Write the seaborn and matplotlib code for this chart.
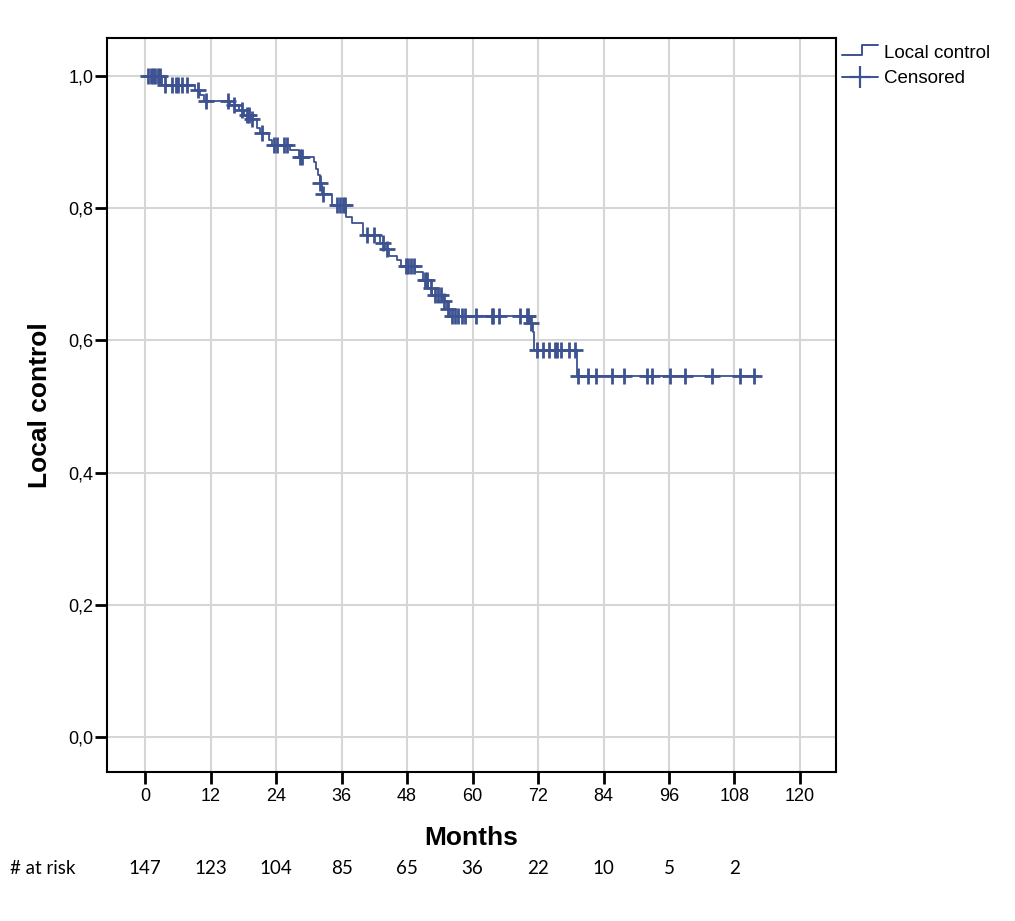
import numpy as np
import matplotlib
matplotlib.use("Agg")
import matplotlib.pyplot as plt
import matplotlib.transforms as mtransforms
from matplotlib.lines import Line2D
from matplotlib.legend_handler import HandlerBase
import seaborn as sns

# Kaplan-Meier step curve (time in months, survival after each step)
step_t = [0, 3.0, 9.2, 10.1, 10.7, 15.6, 17.2, 18.1, 19.3, 20.5, 21.0, 22.7, 23.2,
          26.5, 28.2, 30.9, 31.3, 31.7, 32.0, 32.4, 34.2, 36.8, 37.9, 40.0, 43.1,
          44.0, 44.7, 46.1, 46.8, 49.5, 51.0, 51.8, 52.5, 54.5, 55.3, 55.8, 70.5,
          71.0, 71.3, 79.1, 112.4]
step_s = [1.0, 0.987, 0.979, 0.971, 0.962, 0.956, 0.948, 0.941, 0.935, 0.921, 0.914,
          0.903, 0.896, 0.888, 0.878, 0.870, 0.860, 0.850, 0.838, 0.822, 0.805, 0.787,
          0.777, 0.759, 0.747, 0.739, 0.728, 0.722, 0.713, 0.704, 0.691, 0.680, 0.669,
          0.659, 0.648, 0.637, 0.626, 0.613, 0.586, 0.546, 0.546]

censor_t = [0.5, 1.0, 1.4, 1.8, 2.3, 2.7,
            3.7, 4.9, 5.7, 6.1, 6.7, 7.7, 9.6, 11.2, 15.2, 16.2, 17.8,
            18.6, 19.0, 19.5, 21.5, 23.6, 24.2, 25.4, 26.0, 28.4, 28.7,
            32.1, 32.6, 35.1, 35.7, 36.2, 36.6, 40.6, 42.0, 43.5, 44.3,
            47.8, 48.2, 48.8, 49.3, 51.3, 51.6, 52.3, 53.1, 53.6, 54.3, 54.7, 55.5,
            56.2, 56.7, 57.4, 58.0, 58.6, 60.6, 63.5, 63.8, 64.9, 68.7, 69.9, 70.2,
            70.8, 71.8, 72.9, 74.1, 75.1, 75.5, 76.2, 77.6, 78.8,
            79.4, 81.2, 82.6, 85.5, 87.8, 91.9, 92.9, 96.2, 99.0, 103.8, 109.0, 111.6]

x_ticks = [0, 12, 24, 36, 48, 60, 72, 84, 96, 108, 120]
y_ticks = [0.0, 0.2, 0.4, 0.6, 0.8, 1.0]
y_labels = ["0,0", "0,2", "0,4", "0,6", "0,8", "1,0"]
risk_t = [0, 12, 24, 36, 48, 60, 72, 84, 96, 108]
at_risk = [147, 123, 104, 85, 65, 36, 22, 10, 5, 2]

LINE = "#3d5290"

sns.set_style("white")
plt.rcParams["font.family"] = ["Liberation Sans", "DejaVu Sans"]
plt.rcParams.update({"text.color": "black", "axes.labelcolor": "black",
                     "xtick.color": "black", "ytick.color": "black"})

# censor marks sit on the curve level at their time
idx = np.searchsorted(step_t, censor_t, side="right") - 1
censor_s = [step_s[i] for i in idx]

fig = plt.figure(figsize=(10.15, 9.21), dpi=100)
ax = fig.add_axes([0.1054, 0.1618, 0.7182, 0.7969])

ax.grid(True, color="#d6d6d6", lw=1.5, zorder=0)
ax.set_axisbelow(True)

sns.lineplot(x=step_t, y=step_s, drawstyle="steps-post", estimator=None, sort=False,
             color=LINE, lw=1.3, ax=ax, zorder=3)
ax.plot(censor_t, censor_s, ls="none", marker="+", ms=11, mew=2.0, color=LINE, zorder=4)

ax.set_xlim(-7, 126.6)
ax.set_ylim(-0.053, 1.0575)
ax.set_xticks(x_ticks)
ax.set_xticklabels([str(v) for v in x_ticks])
ax.set_yticks(y_ticks)
ax.set_yticklabels(y_labels)
ax.tick_params(axis="both", direction="out", length=8.6, width=2, color="black",
               labelsize=13, bottom=True, left=True)
ax.tick_params(axis="y", pad=1)
ax.tick_params(axis="x", pad=3)
for sp in ax.spines.values():
    sp.set_color("black")
    sp.set_linewidth(1.5)

ax.set_xlabel("Months", fontsize=19, fontweight="bold", labelpad=15)
ax.set_ylabel("Local control", fontsize=19, fontweight="bold", labelpad=12)


class StepHandler(HandlerBase):
    def create_artists(self, legend, orig_handle, xd, yd, w, h, fontsize, trans):
        xs = [xd, xd + w * 0.55, xd + w * 0.55, xd + w]
        ys = [yd + h * 0.2, yd + h * 0.2, yd + h * 0.95, yd + h * 0.95]
        ln = Line2D(xs, ys, color=LINE, lw=1.4, transform=trans)
        return [ln]


step_handle = Line2D([], [], color=LINE)
cens_handle = Line2D([], [], color=LINE, lw=1.4, marker="+", ms=16, mew=1.6)
leg = fig.legend([step_handle, cens_handle], ["Local control", "Censored"],
                 handler_map={step_handle: StepHandler()},
                 loc="upper left", bbox_to_anchor=(0.817, 0.966), frameon=False,
                 fontsize=13.5, handlelength=1.9, handletextpad=0.3, labelspacing=0.45,
                 borderpad=0.2)

# numbers at risk under the axis
trans = mtransforms.blended_transform_factory(ax.transData, fig.transFigure)
for t, n in zip(risk_t, at_risk):
    ax.text(t, 0.057, str(n), transform=trans, ha="center", va="center",
            fontsize=13.5, family=["Lato", "DejaVu Sans"])
fig.text(0.01, 0.057, "# at risk", ha="left", va="center", fontsize=13.5,
         family=["Lato", "DejaVu Sans"])

fig.savefig("out.png", dpi=100)
